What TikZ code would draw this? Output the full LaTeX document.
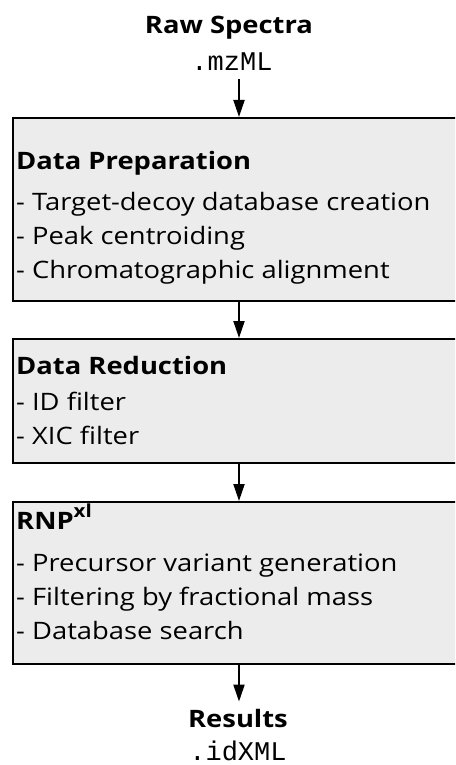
\documentclass[tikz,border=0pt]{standalone}
\usepackage{fontspec}
\setmainfont[FakeStretch=1.14]{Open Sans}
\setmonofont{Liberation Mono}
\usetikzlibrary{arrows.meta,positioning,calc}
\definecolor{boxgray}{RGB}{236,236,236}
\tikzset{
  stage/.style={draw, line width=2pt, fill=boxgray, anchor=north west, minimum width=452pt, inner sep=0pt},
  stagetext/.style={anchor=north west, align=left, inner sep=0pt, font=\fontsize{24}{34}\selectfont},
  ioname/.style={anchor=base, inner sep=0pt, font=\fontsize{24}{30}\selectfont\bfseries},
  iofile/.style={anchor=base, inner sep=0pt, font=\fontsize{27}{30}\selectfont\ttfamily},
  flow/.style={line width=2pt, -{Triangle[width=11pt,length=17pt]}},
}
\newcommand{\suptxt}[1]{\raisebox{12pt}{\fontsize{18}{18}\selectfont #1}}

\begin{document}
\begin{tikzpicture}[x=1pt,y=-1pt]
  \useasboundingbox (0,0) rectangle (455,765); % 画像全体の大きさ
  \clip (0,0) rectangle (455,765); % 右端で箱を切る
  \node[ioname] (raw) at (229,34) {Raw Spectra}; % 入力
  \node[iofile] (mzml) at (232,71) {.mzML}; % 入力ファイル形式
  \node[stage, minimum height=183pt] (prep) at (12,117) {}; % 第一段の箱
  \node[stage, minimum height=124pt] (reduc) at (12,338) {}; % 第二段の箱
  \node[stage, minimum height=162pt] (rnp) at (12,501) {}; % 第三段の箱
  \node[stagetext] (preptext) at (16,151) {\textbf{Data Preparation}\\[7pt]
    - Target-decoy database creation\\ - Peak centroiding\\ - Chromatographic alignment}; % 第一段の文
  \node[stagetext] (reductext) at (16,356) {\textbf{Data Reduction}\\[2pt]
    - ID filter\\ - XIC filter}; % 第二段の文
  \node[stagetext] (rnptext) at (16,504) {\textbf{RNP\suptxt{xl}}\\[8pt]
    - Precursor variant generation\\ - Filtering by fractional mass\\ - Database search}; % 第三段の文
  \node[ioname] (results) at (238,727) {Results}; % 出力
  \node[iofile] (idxml) at (238,760) {.idXML}; % 出力ファイル形式
  \draw[flow, shorten <=8pt] (prep.north |- mzml.south) -- (prep.north); % 入力から第一段へ
  \draw[flow] (prep.south) -- (reduc.north); % 第一段から第二段へ
  \draw[flow] (reduc.south) -- (rnp.north); % 第二段から第三段へ
  \draw[flow, shorten >=7pt] (rnp.south) -- (rnp.south |- results.north); % 第三段から出力へ
\end{tikzpicture}
\end{document}
